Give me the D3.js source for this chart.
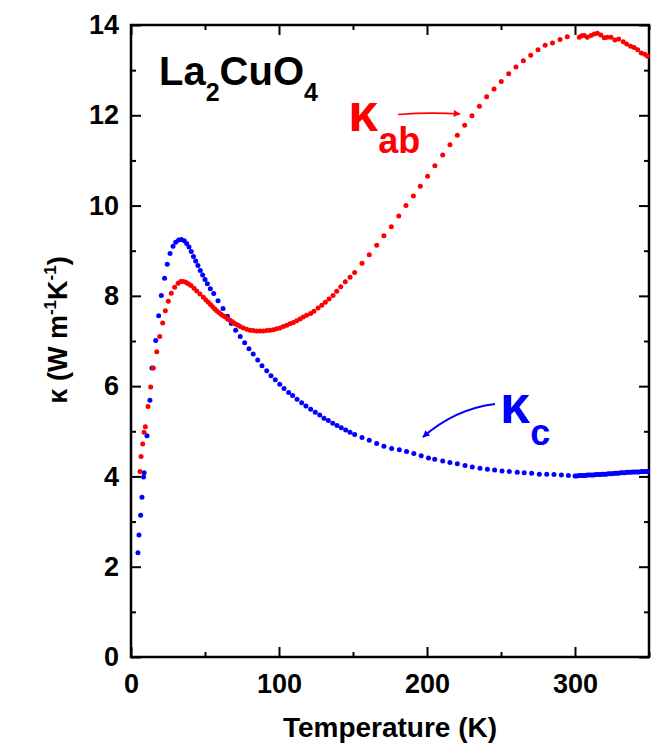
<!DOCTYPE html>
<html>
<head>
<meta charset="utf-8">
<script src="https://cdn.jsdelivr.net/npm/d3@7"></script>
<style>
  body { margin: 0; background: #fff; }
  text { font-family: "Liberation Sans", Arial, "DejaVu Sans", sans-serif; font-weight: bold; }
</style>
</head>
<body>
<svg id="chart" width="656" height="745"></svg>
<script>
// Thermal conductivity of La2CuO4, in-plane (ab) and out-of-plane (c)
const tempAB = [6.1, 6.8, 7.9, 8.8, 9.7, 11.5, 13.3, 15.1, 17.4, 19.4, 21.4, 23.2, 25.2, 27.2, 29.5, 31.8, 33.6, 35.3, 37.0, 38.7,
  40.5, 42.6, 44.4, 46.6, 48.9, 50.6, 52.2, 53.7, 55.2, 56.6, 57.9, 59.4, 60.8, 62.2, 63.7, 65.3, 66.9, 68.3, 69.6, 71.0,
  72.3, 73.8, 75.9, 78.2, 80.4, 82.6, 84.9, 87.2, 89.4, 91.7, 93.9, 96.2, 98.4, 100.7, 102.9, 105.2, 107.4, 109.7, 111.9, 114.2,
  116.4, 118.7, 121.4, 123.6, 126.4, 128.9, 131.3, 133.8, 136.5, 139.0, 141.7, 144.8, 148.0, 151.1, 156.1, 161.0, 166.0, 170.9, 175.9, 180.9,
  185.8, 190.8, 195.5, 200.4, 205.3, 210.6, 215.5, 220.5, 225.5, 230.4, 235.4, 240.3, 245.3, 250.2, 255.2, 260.1, 265.1, 270.1, 275.0, 279.8,
  284.8, 289.9, 294.8, 302.9, 304.5, 306.3, 308.3, 310.8, 313.0, 315.1, 317.4, 319.8, 321.8, 324.3, 327.0, 329.5, 332.6, 334.9, 337.6, 340.0,
  342.4, 344.8, 347.1, 349.0];
const kappaAB = [4.11, 4.44, 4.72, 4.98, 5.10, 5.55, 5.98, 6.40, 6.76, 7.10, 7.40, 7.67, 7.88, 8.06, 8.19, 8.28, 8.32, 8.32, 8.30, 8.27,
  8.23, 8.17, 8.11, 8.04, 7.97, 7.91, 7.86, 7.81, 7.76, 7.71, 7.67, 7.63, 7.59, 7.56, 7.53, 7.49, 7.46, 7.43, 7.40, 7.37,
  7.35, 7.32, 7.29, 7.26, 7.24, 7.23, 7.22, 7.22, 7.22, 7.23, 7.24, 7.25, 7.27, 7.29, 7.32, 7.35, 7.38, 7.41, 7.45, 7.49,
  7.53, 7.57, 7.61, 7.66, 7.73, 7.79, 7.86, 7.93, 8.01, 8.10, 8.20, 8.31, 8.41, 8.52, 8.72, 8.91, 9.12, 9.33, 9.53, 9.77,
  10.00, 10.21, 10.43, 10.65, 10.88, 11.12, 11.35, 11.56, 11.78, 11.99, 12.20, 12.41, 12.58, 12.75, 12.92, 13.07, 13.21, 13.33, 13.45, 13.55,
  13.60, 13.68, 13.74, 13.73, 13.76, 13.77, 13.73, 13.77, 13.80, 13.82, 13.78, 13.72, 13.73, 13.73, 13.67, 13.69, 13.63, 13.58, 13.53, 13.50,
  13.45, 13.38, 13.35, 13.31];

const tempC = [4.7, 5.4, 6.5, 7.4, 8.5, 8.9, 10.8, 12.8, 14.2, 16.7, 18.7, 20.5, 22.7, 24.5, 26.4, 28.4, 30.2, 32.2, 34.0, 36.0,
  37.6, 39.2, 40.7, 42.2, 43.7, 45.2, 46.8, 48.4, 50.0, 51.6, 53.6, 55.9, 58.8, 62.2, 65.1, 67.8, 70.7, 73.8, 76.8, 79.7,
  82.6, 85.6, 88.5, 91.7, 94.6, 97.5, 100.5, 103.4, 106.5, 109.2, 112.2, 115.3, 118.2, 121.4, 124.5, 127.5, 130.4, 133.3, 136.3, 139.2,
  142.1, 145.1, 148.0, 151.1, 156.1, 161.0, 166.0, 170.9, 176.1, 181.3, 186.2, 191.1, 196.1, 201.0, 205.2, 210.6, 215.5, 220.5, 225.7, 230.6,
  235.8, 240.8, 245.7, 250.7, 255.6, 261.0, 265.7, 270.7, 275.9, 280.9, 285.8, 290.8, 295.5, 300.0, 301.4, 302.8, 304.2, 305.6, 307.0, 308.4,
  309.8, 311.2, 312.6, 314.0, 315.4, 316.8, 318.2, 319.6, 321.0, 322.4, 323.8, 325.2, 326.6, 328.0, 329.4, 330.8, 332.2, 333.6, 335.0, 336.4,
  337.8, 339.2, 340.6, 342.0, 343.4, 344.8, 346.2, 347.6, 349.0];
const kappaC = [2.31, 2.70, 3.14, 3.54, 3.99, 4.08, 4.90, 5.69, 6.40, 7.01, 7.56, 8.01, 8.39, 8.70, 8.94, 9.10, 9.19, 9.24, 9.25, 9.22,
  9.16, 9.08, 8.98, 8.87, 8.77, 8.67, 8.56, 8.46, 8.36, 8.27, 8.16, 8.05, 7.89, 7.72, 7.55, 7.39, 7.24, 7.10, 6.96, 6.83,
  6.71, 6.58, 6.45, 6.34, 6.23, 6.14, 6.04, 5.95, 5.86, 5.79, 5.71, 5.63, 5.56, 5.49, 5.42, 5.36, 5.29, 5.24, 5.18, 5.13,
  5.08, 5.03, 4.98, 4.93, 4.86, 4.80, 4.73, 4.67, 4.62, 4.59, 4.55, 4.51, 4.46, 4.41, 4.38, 4.34, 4.31, 4.28, 4.24, 4.21,
  4.18, 4.16, 4.14, 4.12, 4.11, 4.09, 4.08, 4.07, 4.05, 4.05, 4.04, 4.03, 4.02, 4.01, 4.01, 4.02, 4.02, 4.02, 4.02, 4.03,
  4.03, 4.03, 4.03, 4.04, 4.04, 4.04, 4.05, 4.05, 4.05, 4.06, 4.06, 4.06, 4.07, 4.07, 4.07, 4.08, 4.08, 4.08, 4.09, 4.09,
  4.09, 4.10, 4.10, 4.10, 4.10, 4.11, 4.11, 4.11, 4.11];

const xMajorTicks = [0, 100, 200, 300];
const xMinorTicks = [50, 150, 250, 350];
const yMajorTicks = [0, 2, 4, 6, 8, 10, 12, 14];
const yMinorTicks = [1, 3, 5, 7, 9, 11, 13];

const svg = d3.select("#chart");
const plot = { left: 131, right: 649, top: 25, bottom: 657 };

const x = d3.scaleLinear().domain([0, 350]).range([plot.left, plot.right]);
const y = d3.scaleLinear().domain([0, 14]).range([plot.bottom, plot.top]);

const tickFont = 27;

function styleAxis(g) {
  g.select(".domain").remove();
  g.selectAll(".tick line").attr("stroke", "#000").attr("stroke-width", 2);
  g.selectAll(".tick text").attr("font-size", tickFont).attr("fill", "#000")
    .style("font-family", '"Liberation Sans", Arial, sans-serif').style("font-weight", "bold");
}

// bottom axis with labels, plus minor ticks
svg.append("g").attr("transform", `translate(0,${plot.bottom})`)
  .call(d3.axisBottom(x).tickValues(xMajorTicks).tickSize(-10).tickPadding(17).tickFormat(d3.format("d")))
  .call(styleAxis);
svg.append("g").attr("transform", `translate(0,${plot.bottom})`)
  .call(d3.axisBottom(x).tickValues(xMinorTicks).tickSize(-5).tickFormat(""))
  .call(styleAxis);
// top axis (ticks only)
svg.append("g").attr("transform", `translate(0,${plot.top})`)
  .call(d3.axisTop(x).tickValues(xMajorTicks).tickSize(-10).tickFormat(""))
  .call(styleAxis);
svg.append("g").attr("transform", `translate(0,${plot.top})`)
  .call(d3.axisTop(x).tickValues(xMinorTicks).tickSize(-5).tickFormat(""))
  .call(styleAxis);
// left axis with labels
svg.append("g").attr("transform", `translate(${plot.left},0)`)
  .call(d3.axisLeft(y).tickValues(yMajorTicks).tickSize(-10).tickPadding(12).tickFormat(d3.format("d")))
  .call(styleAxis);
svg.append("g").attr("transform", `translate(${plot.left},0)`)
  .call(d3.axisLeft(y).tickValues(yMinorTicks).tickSize(-5).tickFormat(""))
  .call(styleAxis);
// right axis (ticks only)
svg.append("g").attr("transform", `translate(${plot.right},0)`)
  .call(d3.axisRight(y).tickValues(yMajorTicks).tickSize(-10).tickFormat(""))
  .call(styleAxis);
svg.append("g").attr("transform", `translate(${plot.right},0)`)
  .call(d3.axisRight(y).tickValues(yMinorTicks).tickSize(-5).tickFormat(""))
  .call(styleAxis);

// frame
svg.append("rect")
  .attr("x", plot.left).attr("y", plot.top)
  .attr("width", plot.right - plot.left).attr("height", plot.bottom - plot.top)
  .attr("fill", "none").attr("stroke", "#000").attr("stroke-width", 2.5);

// data points
const seriesAB = tempAB.map((t, i) => ({ t, k: kappaAB[i] }));
const seriesC = tempC.map((t, i) => ({ t, k: kappaC[i] }));

svg.append("g").selectAll("circle").data(seriesC).join("circle")
  .attr("cx", d => x(d.t)).attr("cy", d => y(d.k)).attr("r", 2.5).attr("fill", "#0000ff");
svg.append("g").selectAll("circle").data(seriesAB).join("circle")
  .attr("cx", d => x(d.t)).attr("cy", d => y(d.k)).attr("r", 2.5).attr("fill", "#ff0000");

// axis titles
svg.append("text")
  .attr("x", 390).attr("y", 737).attr("text-anchor", "middle")
  .attr("font-size", 28).attr("fill", "#000")
  .text("Temperature (K)");

const yTitle = svg.append("text")
  .attr("transform", "translate(67,330) rotate(-90)")
  .attr("text-anchor", "middle").attr("font-size", 27).attr("fill", "#000");
yTitle.append("tspan").text("κ (W m");
yTitle.append("tspan").attr("font-size", 17).attr("dy", -11).text("-1");
yTitle.append("tspan").attr("dy", 11).text("K");
yTitle.append("tspan").attr("font-size", 17).attr("dy", -11).text("-1");
yTitle.append("tspan").attr("dy", 11).text(")");

// compound label
const compound = svg.append("text").attr("x", 159).attr("y", 85).attr("font-size", 40).attr("fill", "#000");
compound.append("tspan").text("La");
compound.append("tspan").attr("font-size", 25).attr("dy", 16).text("2");
compound.append("tspan").attr("dy", -16).text("CuO");
compound.append("tspan").attr("font-size", 25).attr("dy", 16).text("4");

// series labels
const labAB = svg.append("text").attr("x", 348).attr("y", 131).attr("fill", "#ff0000").attr("font-size", 54);
labAB.append("tspan").text("κ");
labAB.append("tspan").attr("font-size", 36).attr("dy", 22).text("ab");

const labC = svg.append("text").attr("x", 500).attr("y", 423).attr("fill", "#0000ff").attr("font-size", 54);
labC.append("tspan").text("κ");
labC.append("tspan").attr("font-size", 36).attr("dy", 22).text("c");

// arrows
const defs = svg.append("defs");
[["headRed", "#ff0000"], ["headBlue", "#0000ff"]].forEach(([id, col]) => {
  defs.append("marker").attr("id", id)
    .attr("viewBox", "0 0 10 10").attr("refX", 9).attr("refY", 5)
    .attr("markerWidth", 11).attr("markerHeight", 7).attr("markerUnits", "userSpaceOnUse")
    .attr("orient", "auto")
    .append("path").attr("d", "M0,0 L10,5 L0,10 Z").attr("fill", col);
});
svg.append("path")
  .attr("d", "M398,114.5 Q430,112 460,114")
  .attr("fill", "none").attr("stroke", "#ff0000").attr("stroke-width", 1.6)
  .attr("marker-end", "url(#headRed)");
svg.append("path")
  .attr("d", "M495,404 Q455,409 423,437")
  .attr("fill", "none").attr("stroke", "#0000ff").attr("stroke-width", 1.8)
  .attr("marker-end", "url(#headBlue)");
</script>
</body>
</html>
